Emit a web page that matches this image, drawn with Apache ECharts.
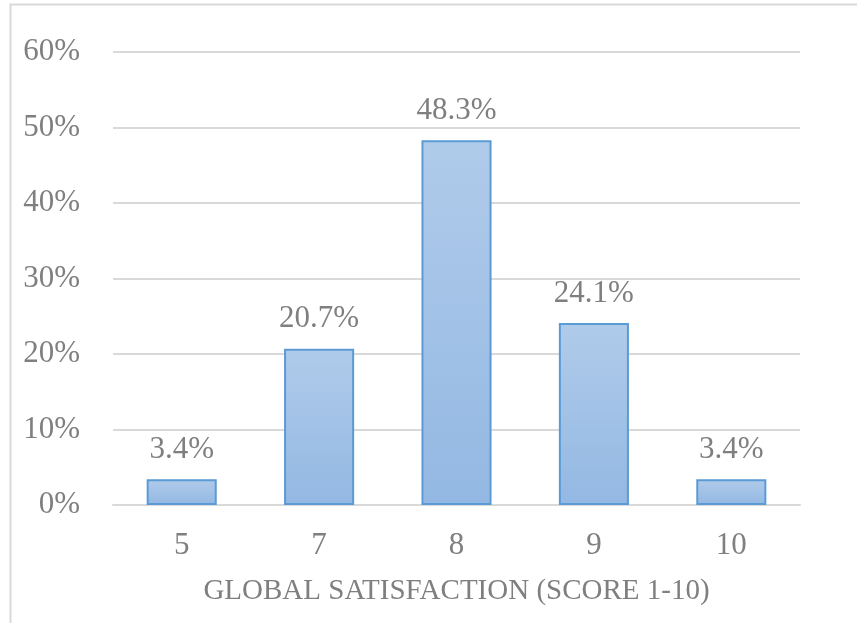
<!DOCTYPE html>
<html style="height: 100%">
<head>
  <meta charset="utf-8">
</head>
<body style="height: 100%; margin: 0">
  <div id="container" style="width: 857px; height: 623px"></div>
  <script type="text/javascript" src="https://cdn.jsdelivr.net/npm/echarts@6/dist/echarts.min.js"></script>
  <script type="text/javascript">
    var scores = ['5', '7', '8', '9', '10'];
    var shares = [3.4, 20.7, 48.3, 24.1, 3.4];
    var yTicks = { min: 0, max: 60, interval: 10 };
    var xTitle = 'GLOBAL SATISFACTION (SCORE 1-10)';

    var font = 'Liberation Serif';
    var grey = '#7f7f7f';

    var dom = document.getElementById('container');
    var myChart = echarts.init(dom, null, { renderer: 'canvas' });
    var option;

    option = {
      backgroundColor: '#fff',
      animation: false,
      graphic: [{
        type: 'rect',
        shape: { x: 10.5, y: 4.5, width: 900, height: 700 },
        style: { fill: 'none', stroke: '#d9d9d9', lineWidth: 2 },
        silent: true
      }],
      grid: { left: 113, right: 57, top: 52, bottom: 118 },
      xAxis: {
        type: 'category',
        data: scores,
        name: xTitle,
        nameLocation: 'middle',
        nameGap: 72,
        nameTextStyle: { fontFamily: font, fontSize: 29, color: grey },
        axisLine: { lineStyle: { color: '#d9d9d9', width: 2 } },
        axisTick: { show: false },
        axisLabel: { fontFamily: font, fontSize: 31, color: grey, margin: 25 }
      },
      yAxis: {
        type: 'value',
        min: yTicks.min,
        max: yTicks.max,
        interval: yTicks.interval,
        axisLine: { show: false },
        axisTick: { show: false },
        splitLine: { lineStyle: { color: '#d9d9d9', width: 2 } },
        axisLabel: {
          fontFamily: font, fontSize: 31, color: grey, margin: 33,
          formatter: function (v) { return v + '%'; }
        }
      },
      series: [{
        type: 'bar',
        data: shares,
        barWidth: '51%',
        itemStyle: {
          color: new echarts.graphic.LinearGradient(0, 0, 0, 1, [
            { offset: 0, color: '#b0cbea' },
            { offset: 1, color: '#93b8e3' }
          ]),
          borderColor: '#5b9bd5',
          borderWidth: 2
        },
        label: {
          show: true,
          position: 'top',
          distance: 14,
          fontFamily: font,
          fontSize: 31,
          color: grey,
          formatter: function (p) { return p.value.toFixed(1) + '%'; }
        }
      }]
    };

    if (option && typeof option === 'object') {
      myChart.setOption(option);
    }

    window.addEventListener('resize', myChart.resize);
  </script>
</body>
</html>
